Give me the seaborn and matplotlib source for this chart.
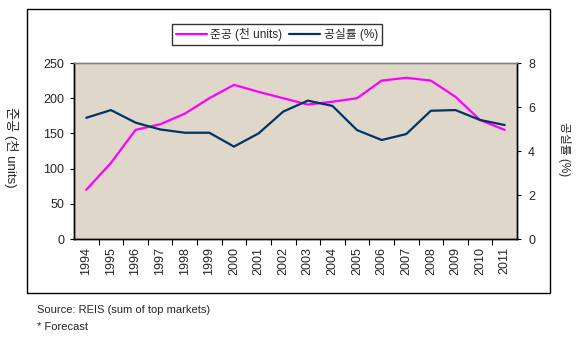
import matplotlib
matplotlib.use("Agg")
import matplotlib.pyplot as plt
import seaborn as sns
import pandas as pd
from matplotlib.patches import Rectangle
from matplotlib.lines import Line2D

years = [str(y) for y in range(1994, 2012)]
completions = [70, 108, 155, 163, 178, 200, 219, 209, 200, 191, 195, 200, 225, 229, 225, 202, 169, 155]
vacancy = [5.51, 5.86, 5.29, 4.98, 4.83, 4.83, 4.20, 4.80, 5.79, 6.29, 6.05, 4.95, 4.50, 4.77, 5.83, 5.86, 5.41, 5.18]
left_ticks = [0, 50, 100, 150, 200, 250]
right_ticks = [0, 2, 4, 6, 8]
label_comp = "준공 (천 units)"
label_vac = "공실률 (%)"
source_text = "Source: REIS (sum of top markets)"
note_text = "* Forecast"

sns.set_theme(style="white")
plt.rcParams['font.family'] = ['Liberation Sans', 'Noto Sans CJK KR']

MAGENTA = "#FF00FF"
NAVY = "#003366"
BG = "#DED7CA"

df = pd.DataFrame({"year": years, "comp": completions, "vac": vacancy})
df["pos"] = range(len(years))

fig = plt.figure(figsize=(5.79, 3.41), dpi=100)
fig.patch.set_facecolor("white")
ax = fig.add_axes([74/579, 1-239/341, 443/579, 176/341])
ax.set_facecolor(BG)

sns.lineplot(data=df, x="pos", y="comp", ax=ax, color=MAGENTA, linewidth=1.6, legend=False)
ax2 = ax.twinx()
sns.lineplot(data=df, x="pos", y="vac", ax=ax2, color=NAVY, linewidth=1.6, legend=False)

n = len(years)
ax.set_xlim(-0.5, n - 0.5)
ax.set_ylim(0, 250)
ax2.set_ylim(0, 8)
ax.set_yticks(left_ticks)
ax2.set_yticks(right_ticks)
ax.set_yticklabels([str(t) for t in left_ticks], fontsize=9)
ax2.set_yticklabels([str(t) for t in right_ticks], fontsize=9)

# boundaries as major ticks, labels at minor (centers)
ax.set_xticks([i + 0.5 for i in range(n - 1)])
ax.set_xticklabels([])
ax.set_xticks(list(range(n)), minor=True)
ax.set_xticklabels(years, minor=True, rotation=90, fontsize=9)
ax.tick_params(axis="x", which="major", direction="out", length=4, width=0.8, color="black", bottom=True)
ax.tick_params(axis="x", which="minor", length=0, pad=6, bottom=True)
ax.tick_params(axis="y", direction="out", length=3, width=0.8, color="black", left=True, pad=4)
ax2.tick_params(axis="y", direction="out", length=3, width=0.8, color="black", right=True, pad=5)
ax.set_xlabel("")
ax.set_ylabel("")
ax2.set_ylabel("")
ax.grid(False)
ax2.grid(False)

for a in (ax, ax2):
    for s in ("left", "bottom", "right"):
        a.spines[s].set_color("black")
        a.spines[s].set_linewidth(1.0)
    a.spines["top"].set_color("#808080")
    a.spines["top"].set_linewidth(1.0)

fig.text(11/579, 1-147/341, label_comp, rotation=270, ha="center", va="center", fontsize=9.5)
fig.text(565/579, 1-149/341, label_vac, rotation=270, ha="center", va="center", fontsize=8.5)

handles = [Line2D([0], [0], color=MAGENTA, lw=1.6), Line2D([0], [0], color=NAVY, lw=1.6)]
leg = fig.legend(handles, [label_comp, label_vac], loc="center", bbox_to_anchor=(277/579, 1-34.5/341),
                 ncol=2, frameon=True, fancybox=False, edgecolor="black", fontsize=8.5,
                 handlelength=2.6, handletextpad=0.3, columnspacing=0.6, borderpad=0.35, borderaxespad=0)
leg.get_frame().set_linewidth(1.0)

fig.patches.append(Rectangle((27/579, 1-293/341), 523/579, 284/341, transform=fig.transFigure,
                             fill=False, edgecolor="black", linewidth=1.0, zorder=0))

fig.text(37/579, 1-310/341, source_text, ha="left", va="center", fontsize=8)
fig.text(37/579, 1-327/341, note_text, ha="left", va="center", fontsize=8)

fig.savefig("out.png", dpi=100)
